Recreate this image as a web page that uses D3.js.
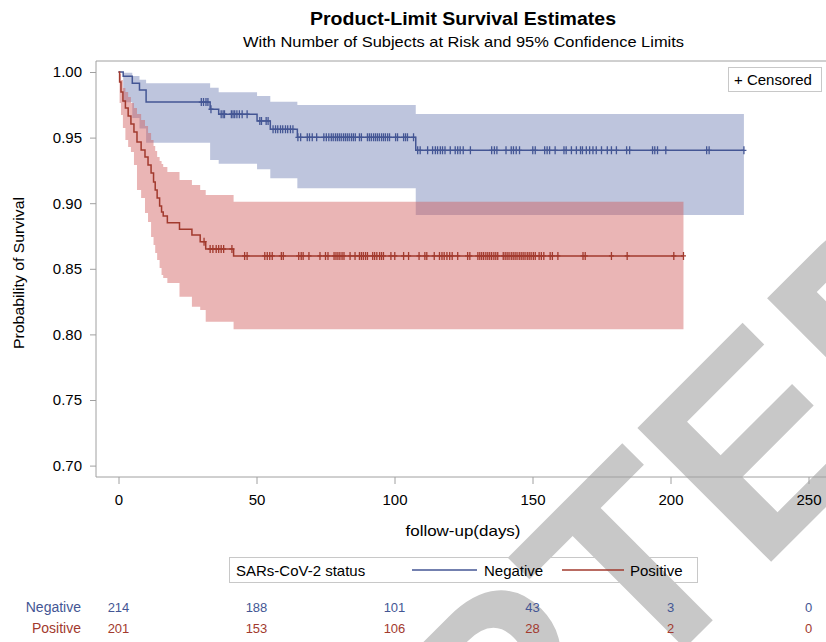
<!DOCTYPE html>
<html>
<head>
<meta charset="utf-8">
<script src="https://cdn.jsdelivr.net/npm/d3@7"></script>
<style>
  body { margin: 0; background: #fff; }
  #chart { width: 826px; height: 642px; }
  text { font-family: "Liberation Sans", Arial, sans-serif; }
</style>
</head>
<body>
<div id="chart"></div>
<script>
// Negative group: event times, KM estimate and 95% limits
const neg_times = [0, 1.7, 5.0, 7.6, 10.0, 33.2, 36.3, 50.2, 55.0, 64.8, 107.7];
const neg_surv  = [1, 0.9967, 0.9914, 0.9863, 0.9771, 0.9716, 0.9678, 0.9627, 0.9563, 0.9502, 0.9403];
const neg_upper = [1, 0.9995, 0.997, 0.994, 0.9914, 0.988, 0.9845, 0.9817, 0.9774, 0.9748, 0.968];
const neg_lower = [1, 0.977, 0.965, 0.957, 0.946, 0.933, 0.930, 0.9258, 0.919, 0.9114, 0.891];
const neg_censored = [30.0, 30.8, 31.7, 32.4, 33.5, 37.2, 37.9, 38.4, 40.9, 41.5, 42.1, 42.9, 43.8, 44.8, 46.6,
  51.2, 51.8, 53.5, 54.2, 56.0, 56.9, 57.7, 58.7, 59.5, 60.5, 61.3, 62.3, 63.2, 65.0, 66.0, 68.4, 69.2, 70.2,
  71.8, 74.4, 75.3, 76.2, 77.1, 77.8, 78.6, 79.3, 80.0, 80.7, 81.5, 82.2, 82.9, 83.6, 84.4, 85.1, 85.8, 87.3,
  88.0, 90.2, 90.9, 91.6, 92.4, 93.1, 93.8, 94.5, 95.3, 96.0, 96.7, 97.5, 98.2, 100.4, 101.1, 103.3, 104.0,
  104.7, 106.9, 108.4, 109.3, 112.0, 113.8, 114.8, 115.6, 116.6, 117.4, 118.3, 120.2, 122.0, 122.9, 123.8,
  124.9, 127.5, 135.2, 136.2, 137.1, 140.4, 142.3, 143.1, 144.1, 145.3, 150.1, 151.0, 154.4, 155.3, 156.2,
  158.2, 161.4, 162.2, 164.1, 165.9, 167.4, 168.1, 169.5, 170.7, 171.9, 173.1, 175.0, 177.1, 178.6, 180.4,
  184.1, 185.2, 193.5, 194.3, 195.3, 198.3, 213.1, 214.0, 226.6];

// Positive group
const pos_times = [0, 0.4, 0.9, 1.6, 2.5, 3.5, 4.5, 5.6, 6.7, 8.2, 9.6, 10.7, 11.8, 12.7, 13.3, 14.0, 14.9,
  15.6, 16.2, 17.7, 22.1, 26.6, 29.6, 31.6, 41.7];
const pos_surv  = [1, 0.9924, 0.9848, 0.9779, 0.9726, 0.9665, 0.9604, 0.9543, 0.9466, 0.9405, 0.9352, 0.9291,
  0.9230, 0.9162, 0.9101, 0.9040, 0.8979, 0.8933, 0.8902, 0.8851, 0.8801, 0.8758, 0.8707, 0.8651, 0.8598];
const pos_upper = [1, 0.9985, 0.9939, 0.9878, 0.9848, 0.9809, 0.9764, 0.9726, 0.9680, 0.9634, 0.9588, 0.9535,
  0.9482, 0.9436, 0.9398, 0.9352, 0.9322, 0.9299, 0.9276, 0.9238, 0.9177, 0.9139, 0.9101, 0.9062, 0.9011];
const pos_lower = [1, 0.9764, 0.9672, 0.9573, 0.9482, 0.9428, 0.9390, 0.9291, 0.9101, 0.9040, 0.8925, 0.8857,
  0.8742, 0.8681, 0.8620, 0.8567, 0.8506, 0.8453, 0.8430, 0.8392, 0.8287, 0.8211, 0.8186, 0.8097, 0.8039];
const pos_censored = [31.0, 33.2, 34.2, 35.4, 36.3, 37.2, 38.1, 41.1, 45.7, 46.6, 53.0, 53.9, 54.8, 55.7, 59.0,
  59.7, 65.3, 66.2, 66.9, 69.0, 73.0, 75.0, 75.9, 78.1, 78.8, 79.5, 80.2, 81.0, 81.7, 83.9, 85.7, 87.3, 88.0,
  88.7, 89.5, 90.2, 92.1, 92.8, 93.6, 94.6, 95.3, 96.0, 98.7, 100.1, 103.3, 105.1, 108.9, 111.0, 111.7, 114.4,
  116.3, 117.2, 118.0, 119.0, 120.0, 120.9, 122.9, 126.5, 127.3, 130.2, 130.9, 131.6, 132.3, 133.1, 133.8,
  134.5, 135.2, 136.0, 136.7, 137.4, 139.4, 140.1, 140.8, 141.5, 142.3, 143.0, 143.7, 144.4, 145.2, 145.9,
  146.6, 147.3, 148.1, 148.8, 149.5, 150.3, 151.0, 152.4, 153.2, 154.1, 156.4, 157.2, 159.2, 168.3, 169.1,
  178.6, 184.3, 201.2, 204.7];

// Axis ticks and number at risk table
const x_ticks = [0, 50, 100, 150, 200, 250];
const y_ticks = [0.70, 0.75, 0.80, 0.85, 0.90, 0.95, 1.00];
const group_names = ["Negative", "Positive"];
const neg_at_risk = [214, 188, 101, 43, 3, 0];
const pos_at_risk = [201, 153, 106, 28, 2, 0];

const groups = [
  {name: group_names[0], times: neg_times, surv: neg_surv, upper: neg_upper, lower: neg_lower,
   censored: neg_censored, at_risk: neg_at_risk, line: "#445694", fill: "#6F7EB3"},
  {name: group_names[1], times: pos_times, surv: pos_surv, upper: pos_upper, lower: pos_lower,
   censored: pos_censored, at_risk: pos_at_risk, line: "#A23A2E", fill: "#D05B5B"}
];

class KMChart {
  width = 826;
  height = 642;
  frame_left = 96;
  frame_top = 61;
  frame_bottom = 477;
  constructor(container, groups){
    this.container = container;
    this.groups = groups;
  }
  // value of the step function at time t
  stepAt = (times, values, t) => {
    let i = d3.bisectRight(times, t) - 1;
    return values[Math.max(0, i)];
  }
  draw = () => {
    d3.select(this.container).selectAll(".chart").remove();
    const svg = d3.select(this.container)
                .append("svg")
                .attr("width", this.width)
                .attr("height", this.height)
                .classed("chart", true);

    const xScale = d3.scaleLinear().domain([0, 250]).range([118.5, 808.5]);
    const yScale = d3.scaleLinear().domain([0.70, 1.00]).range([465.6, 72]);

    // Watermark in the background
    const wm = svg.append("text")
       .attr("x", 0).attr("y", 0)
       .attr("font-size", "275px")
       .attr("font-weight", "bold")
       .attr("fill", "#c8c8c8")
       .text("ACCEPTED");
    const e_start = wm.node().getStartPositionOfChar(6).x + 21;
    wm.attr("transform", "translate(773,560) rotate(-45) translate(" + (-e_start) + ",0)");

    // Titles
    svg.append("text")
       .attr("x", 463).attr("y", 25)
       .attr("text-anchor", "middle")
       .attr("font-size", "19px").attr("font-weight", "bold")
       .attr("textLength", 306).attr("lengthAdjust", "spacingAndGlyphs")
       .text("Product-Limit Survival Estimates");
    svg.append("text")
       .attr("x", 463.5).attr("y", 47)
       .attr("text-anchor", "middle")
       .attr("font-size", "15px")
       .attr("textLength", 441).attr("lengthAdjust", "spacingAndGlyphs")
       .text("With Number of Subjects at Risk and 95% Confidence Limits");

    // Confidence bands (blue first, red on top)
    const band = d3.area()
                  .curve(d3.curveStepAfter)
                  .x(d => xScale(d.t))
                  .y0(d => yScale(d.lo))
                  .y1(d => yScale(d.hi));
    const line = d3.line()
                  .curve(d3.curveStepAfter)
                  .x(d => xScale(d.t))
                  .y(d => yScale(d.s));

    this.groups.forEach(g => {
      const t_end = d3.max(g.censored);
      const pts = g.times.map((t, i) => ({t: t, s: g.surv[i], lo: g.lower[i], hi: g.upper[i]}));
      const last = pts[pts.length - 1];
      pts.push({t: t_end, s: last.s, lo: last.lo, hi: last.hi});
      g.pts = pts;
      svg.append("path")
         .datum(pts)
         .attr("d", band)
         .attr("fill", g.fill)
         .attr("fill-opacity", 0.45);
    });

    this.groups.forEach(g => {
      svg.append("path")
         .datum(g.pts)
         .attr("d", line)
         .attr("fill", "none")
         .attr("stroke", g.line)
         .attr("stroke-width", 1.5);
      // censored marks
      svg.append("g")
         .selectAll("path")
         .data(g.censored)
         .enter()
         .append("path")
         .attr("d", t => {
           const px = xScale(t), py = yScale(this.stepAt(g.times, g.surv, t));
           return "M" + (px - 2.5) + "," + py + "H" + (px + 2.5) + "M" + px + "," + (py - 4) + "V" + (py + 4);
         })
         .attr("stroke", g.line)
         .attr("stroke-width", 1.3);
    });

    // Frame
    svg.append("path")
       .attr("d", "M" + 840 + "," + this.frame_top + "H" + this.frame_left + "V" + this.frame_bottom + "H" + 840)
       .attr("fill", "none")
       .attr("stroke", "#a0a0a0");

    // Left axis
    const yAxis = svg.append("g")
       .attr("transform", "translate(" + this.frame_left + ",0)")
       .call(d3.axisLeft(yScale).tickValues(y_ticks).tickFormat(d3.format(".2f")).tickSize(6).tickPadding(8));
    // Bottom axis
    const xAxis = svg.append("g")
       .attr("transform", "translate(0," + this.frame_bottom + ")")
       .call(d3.axisBottom(xScale).tickValues(x_ticks).tickSize(7).tickPadding(10));
    [xAxis, yAxis].forEach(a => {
      a.select(".domain").remove();
      a.selectAll("line").attr("stroke", "#a0a0a0");
      a.selectAll("text").attr("font-size", "15px").attr("fill", "#000")
       .attr("font-family", "'Liberation Sans', Arial, sans-serif");
    });

    // Axis labels
    svg.append("text")
       .attr("transform", "translate(24,273) rotate(-90)")
       .attr("text-anchor", "middle")
       .attr("font-size", "15px")
       .attr("textLength", 152).attr("lengthAdjust", "spacingAndGlyphs")
       .text("Probability of Survival");
    svg.append("text")
       .attr("x", 463).attr("y", 536)
       .attr("text-anchor", "middle")
       .attr("font-size", "15px")
       .attr("textLength", 115).attr("lengthAdjust", "spacingAndGlyphs")
       .text("follow-up(days)");

    // Censored legend
    svg.append("rect")
       .attr("x", 728.5).attr("y", 67.5).attr("width", 93).attr("height", 24)
       .attr("fill", "#fff").attr("stroke", "#c8c8c8");
    svg.append("text")
       .attr("x", 734).attr("y", 85)
       .attr("font-size", "15px")
       .text("+ Censored");

    // Group legend
    svg.append("rect")
       .attr("x", 229.5).attr("y", 557.5).attr("width", 468).attr("height", 25)
       .attr("fill", "none").attr("stroke", "#c8c8c8");
    svg.append("text")
       .attr("x", 236).attr("y", 576)
       .attr("font-size", "15px")
       .text("SARs-CoV-2 status");
    const leg = [{x1: 412, x2: 477, tx: 484}, {x1: 562, x2: 624, tx: 630}];
    this.groups.forEach((g, i) => {
      svg.append("line")
         .attr("x1", leg[i].x1).attr("x2", leg[i].x2)
         .attr("y1", 570).attr("y2", 570)
         .attr("stroke", g.line).attr("stroke-width", 1.3);
      svg.append("text")
         .attr("x", leg[i].tx).attr("y", 576)
         .attr("font-size", "15px")
         .text(g.name);
    });

    // Number of subjects at risk
    this.groups.forEach((g, i) => {
      const row_y = 612 + i * 21;
      svg.append("text")
         .attr("x", 81).attr("y", row_y)
         .attr("text-anchor", "end")
         .attr("font-size", "14px")
         .attr("fill", g.line)
         .text(g.name);
      svg.append("g")
         .selectAll("text")
         .data(x_ticks)
         .enter()
         .append("text")
         .attr("x", d => xScale(d))
         .attr("y", row_y)
         .attr("text-anchor", "middle")
         .attr("font-size", "13px")
         .attr("fill", g.line)
         .text((d, j) => g.at_risk[j]);
    });
  }
}

const chart = new KMChart(document.getElementById("chart"), groups);
chart.draw();
</script>
</body>
</html>
